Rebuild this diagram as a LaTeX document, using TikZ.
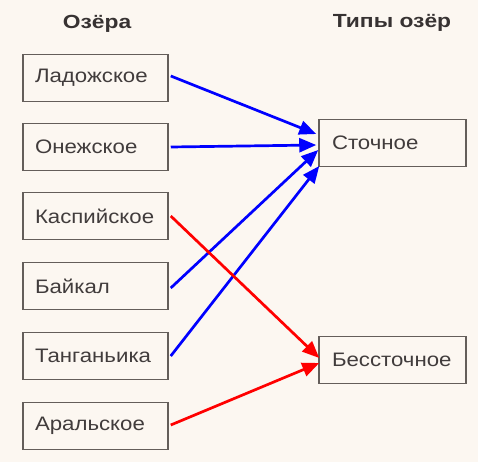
\documentclass[tikz,border=0pt]{standalone}
\usepackage{fontspec}
\setmainfont{Liberation Sans}
\newfontfamily\boxfont[FakeStretch=1.14]{Liberation Sans}
\newfontfamily\headfont[FakeStretch=1.2]{Liberation Sans}
\usetikzlibrary{arrows.meta}
\definecolor{bg}{RGB}{252,247,241}
\definecolor{boxline}{RGB}{100,94,90}
\definecolor{txt}{RGB}{65,60,60}
\definecolor{hdr}{RGB}{55,50,50}
\tikzset{
  lake/.style={draw=boxline, line width=1.5pt, minimum height=47pt, text width=121pt, align=left, inner xsep=12pt, inner ysep=0pt, font=\boxfont\fontsize{19.5}{21}\selectfont, text=txt},
  kind/.style={draw=boxline, line width=1.5pt, minimum height=47pt, text width=121pt, align=left, inner xsep=13pt, inner ysep=0pt, font=\boxfont\fontsize{19.5}{21}\selectfont, text=txt},
  head/.style={font=\headfont\fontsize{19}{21}\selectfont\bfseries, text=hdr},
  flow/.style={line width=2.7pt, -{Triangle[length=17pt,width=14pt]}},
  bl/.style={flow, draw=blue, fill=blue},
  rd/.style={flow, draw=red, fill=red}
}
\begin{document}
\begin{tikzpicture}[x=1pt,y=-1pt]
\fill[bg] (0,0) rectangle (478,462);
\useasboundingbox (0,0) rectangle (478,462);
\node[head] (h1) at (97,24) {Озёра};
\node[head] (h2) at (392,23) {Типы озёр};
\node[lake] (lad) at (95.5,78) {Ладожское};
\node[lake] (one) at (95.5,147) {Онежское};
\node[lake] (kas) at (95.5,216) {Каспийское};
\node[lake] (bai) at (95.5,286) {Байкал};
\node[lake] (tan) at (95.5,356) {Танганьика};
\node[lake] (ara) at (95.5,426) {Аральское};
\node[kind] (st) at (392.5,143) {Сточное};
\node[kind] (bst) at (392.5,360) {Бессточное};
\draw[bl] ([xshift=2pt,yshift=2pt]lad.east) -- ([xshift=-2pt,yshift=9pt]st.west);
\draw[bl] ([xshift=2pt]one.east) -- ([xshift=-2pt,yshift=-2pt]st.west);
\draw[bl] ([xshift=2pt,yshift=-2pt]bai.east) -- ([xshift=0pt,yshift=-7pt]st.west);
\draw[bl] ([xshift=2pt]tan.east) -- ([xshift=1pt,yshift=-23pt]st.west);
\draw[rd] ([xshift=2pt]kas.east) -- ([xshift=1pt,yshift=2pt]bst.west);
\draw[rd] ([xshift=2pt,yshift=1pt]ara.east) -- ([xshift=1pt,yshift=-3pt]bst.west);
\end{tikzpicture}
\end{document}
